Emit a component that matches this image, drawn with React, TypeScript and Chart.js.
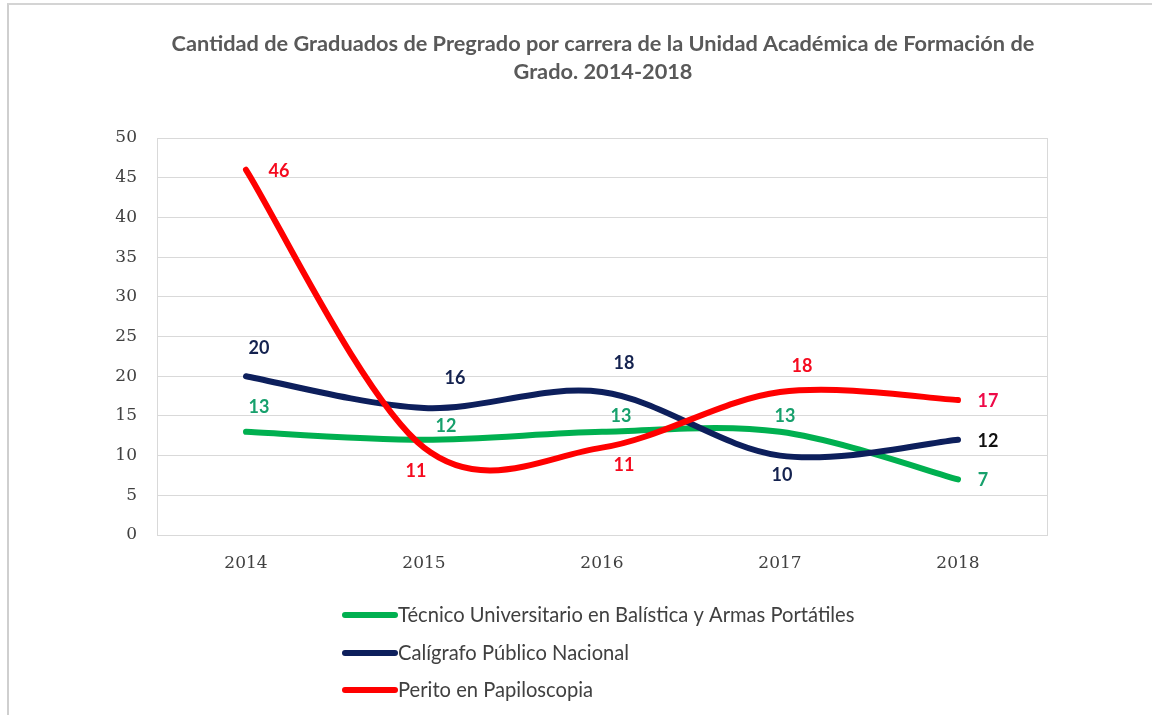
import React, { useEffect, useRef } from "react";
import { Chart, registerables } from "chart.js";

Chart.register(...registerables);

const years = ["2014", "2015", "2016", "2017", "2018"];
const tecnico = [13, 12, 13, 13, 7];
const caligrafo = [20, 16, 18, 10, 12];
const perito = [46, 11, 11, 18, 17];
const seriesNames = [
  "Técnico Universitario en Balística y Armas Portátiles",
  "Calígrafo Público Nacional",
  "Perito en Papiloscopia",
];
const titleLines = [
  "Cantidad de Graduados de Pregrado por carrera de la Unidad Académica de Formación de",
  "Grado. 2014-2018",
];
const yMin = 0;
const yMax = 50;
const yStep = 5;

// label placement (pixel offsets of each value label from its point)
const labelOffsets = [
  [[13, -25], [22, -14], [19, -16], [5, -16], [25, 1]],
  [[13, -28], [31, -30], [22, -29], [2, 20], [30, 1]],
  [[33, 1], [-8, 24], [22, 18], [22, -26], [30, 1]],
];
const lineColors = ["#00b050", "#0d1f5c", "#ff0000"];
const labelColors = [
  ["#17a06c", "#17a06c", "#17a06c", "#17a06c", "#17a06c"],
  ["#14224f", "#14224f", "#14224f", "#14224f", "#111111"],
  ["#f50a1e", "#f50a1e", "#f50a1e", "#f50a1e", "#ee0a48"],
];

function fitFont(ctx: CanvasRenderingContext2D, text: string, weight: string, family: string, target: number) {
  ctx.font = `${weight} 20px ${family}`;
  const w = ctx.measureText(text).width;
  return (20 * target) / w;
}

// Excel-style smoothing: uniform Catmull-Rom control points (1/6 of neighbour chord)
const smoothPlugin = {
  id: "excelSmooth",
  beforeDatasetsDraw(chart: any) {
    chart.data.datasets.forEach((_ds: any, di: number) => {
      const meta = chart.getDatasetMeta(di);
      const line = meta.dataset;
      if (line && typeof line.updateControlPoints === "function") {
        line.updateControlPoints(chart.chartArea, meta.indexAxis);
      }
      const pts = meta.data;
      const n = pts.length;
      for (let i = 0; i < n; i++) {
        const p = pts[i];
        const prev = pts[Math.max(0, i - 1)];
        const next = pts[Math.min(n - 1, i + 1)];
        const tx = (next.x - prev.x) / 6;
        const ty = (next.y - prev.y) / 6;
        p.cp1x = p.x - tx;
        p.cp1y = p.y - ty;
        p.cp2x = p.x + tx;
        p.cp2y = p.y + ty;
      }
      if (line) line._path = undefined;
    });
  },
};

const decorPlugin = {
  id: "decor",
  beforeDraw(chart: any) {
    const { ctx } = chart;
    ctx.save();
    ctx.fillStyle = "#ffffff";
    ctx.fillRect(0, 0, chart.width, chart.height);
    ctx.restore();
  },
  beforeDatasetsDraw(chart: any) {
    const { ctx, chartArea } = chart;
    ctx.save();
    ctx.strokeStyle = "#d9d9d9";
    ctx.lineWidth = 1;
    ctx.strokeRect(chartArea.left + 0.5, chartArea.top + 0.5, chartArea.right - chartArea.left, chartArea.bottom - chartArea.top);
    ctx.restore();
  },
  afterDraw(chart: any) {
    const { ctx } = chart;
    ctx.save();
    // title
    const tSize = fitFont(ctx, titleLines[0], "bold", "Lato", 863);
    ctx.font = `bold ${tSize}px Lato`;
    ctx.fillStyle = "#595959";
    ctx.textAlign = "center";
    ctx.textBaseline = "middle";
    ctx.fillText(titleLines[0], 603, 44);
    ctx.fillText(titleLines[1], 603, 72);

    // value labels
    ctx.font = "bold 18px Lato";
    chart.data.datasets.forEach((ds: any, di: number) => {
      const meta = chart.getDatasetMeta(di);
      meta.data.forEach((pt: any, i: number) => {
        const [dx, dy] = labelOffsets[di][i];
        ctx.fillStyle = labelColors[di][i];
        ctx.fillText(String(ds.data[i]), pt.x + dx, pt.y + dy);
      });
    });

    // legend
    const lSize = fitFont(ctx, seriesNames[0], "normal", "Lato", 457);
    const rows = [615, 653, 690];
    chart.data.datasets.forEach((ds: any, di: number) => {
      const y = rows[di];
      ctx.strokeStyle = ds.borderColor;
      ctx.lineWidth = 6;
      ctx.lineCap = "round";
      ctx.beginPath();
      ctx.moveTo(345, y);
      ctx.lineTo(395, y);
      ctx.stroke();
      ctx.font = `normal ${lSize}px Lato`;
      ctx.fillStyle = "#404040";
      ctx.textAlign = "left";
      ctx.textBaseline = "middle";
      ctx.fillText(ds.label, 398, y);
    });
    ctx.restore();
  },
};

export default function App() {
  const ref = useRef<HTMLCanvasElement>(null);
  useEffect(() => {
    document.body.style.margin = "0";
    const series = [tecnico, caligrafo, perito];
    const chart = new Chart(ref.current as HTMLCanvasElement, {
      type: "line",
      data: {
        labels: years,
        datasets: series.map((d, i) => ({
          label: seriesNames[i],
          data: d,
          borderColor: lineColors[i],
          backgroundColor: lineColors[i],
          borderWidth: 6,
          borderCapStyle: "round",
          borderJoinStyle: "round",
          tension: 0.4,
          pointRadius: 0,
          fill: false,
          order: 3 - i,
        })),
      },
      options: {
        animation: false,
        responsive: false,
        maintainAspectRatio: false,
        layout: { padding: { left: 0, top: 138, right: 105, bottom: 120 } },
        plugins: {
          legend: { display: false },
          title: { display: false },
          tooltip: { enabled: false },
        },
        scales: {
          x: {
            type: "category",
            offset: true,
            grid: { display: false, drawTicks: false },
            border: { display: false },
            ticks: {
              padding: 18,
              color: "#404040",
              font: { family: "DejaVu Serif", size: 17 },
            },
            afterFit: (s: any) => {
              s.height = 60;
            },
          },
          y: {
            min: yMin,
            max: yMax,
            grid: { color: "#d9d9d9", drawTicks: false, lineWidth: 1 },
            border: { display: false },
            ticks: {
              stepSize: yStep,
              padding: 20,
              color: "#404040",
              font: { family: "DejaVu Serif", size: 17 },
            },
            afterFit: (s: any) => {
              s.width = 157;
            },
          },
        },
      },
      plugins: [smoothPlugin, decorPlugin],
    });
    return () => chart.destroy();
  }, []);
  return (
    <div style={{ position: "relative", width: 1152, height: 715, background: "#fff" }}>
      <canvas ref={ref} width={1152} height={715} style={{ display: "block" }} />
      <div
        style={{
          position: "absolute",
          left: 7,
          top: 3,
          width: 1145,
          height: 712,
          borderLeft: "2px solid #cfcfcf",
          borderTop: "2px solid #d4d4d4",
          boxSizing: "border-box",
          pointerEvents: "none",
        }}
      />
    </div>
  );
}
